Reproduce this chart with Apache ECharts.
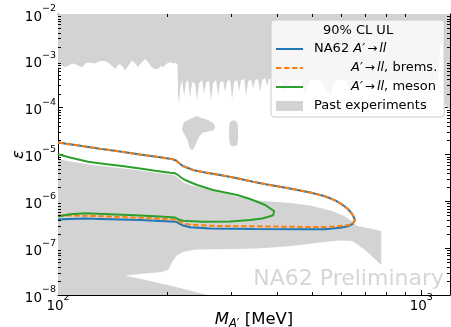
<!DOCTYPE html>
<html>
<head>
<meta charset="utf-8">
<script src="https://cdn.jsdelivr.net/npm/echarts@6/dist/echarts.min.js"></script>
<style>
  html, body { margin: 0; padding: 0; background: #ffffff; }
  #chart { width: 451px; height: 327px; }
</style>
</head>
<body>
<div id="chart"></div>
<script>
const FONT = 'DejaVu Sans';

// axis ranges and tick values
const massRange = [100, 1200];
const epsRange = [1e-8, 1e-2];
const minorMassTicks = [200, 300, 400, 500, 600, 700, 800, 900];
const epsDecades = [1e-8, 1e-7, 1e-6, 1e-5, 1e-4, 1e-3];
const decadeMultipliers = [2, 3, 4, 5, 6, 7, 8, 9];

// NA62 A' -> ll upper-limit contour, [mass MeV, epsilon]
const na62Contour = [
  [100, 1.80e-5], [115.0, 1.54e-5], [130.5, 1.33e-5], [148.2, 1.16e-5], [168.2, 1.00e-5],
  [191.0, 8.71e-6], [207.4, 7.89e-6], [211.4, 7.44e-6], [215.4, 6.58e-6], [219.6, 5.82e-6],
  [225.2, 5.33e-6], [235.4, 4.67e-6], [254.1, 4.13e-6], [279.4, 3.65e-6], [311.3, 3.10e-6],
  [344.5, 2.62e-6], [376.5, 2.29e-6], [408.9, 2.05e-6], [449.6, 1.79e-6], [494.6, 1.54e-6],
  [533.8, 1.33e-6], [561.5, 1.16e-6], [583.3, 1.02e-6], [598.3, 9.07e-7], [613.7, 7.95e-7],
  [625.5, 7.03e-7], [637.5, 6.06e-7], [645.6, 5.36e-7], [653.8, 4.40e-7], [655.9, 3.89e-7],
  [651.8, 3.53e-7], [645.6, 3.25e-7], [629.4, 2.94e-7], [598.3, 2.72e-7], [544.0, 2.54e-7],
  [494.6, 2.53e-7], [348.9, 2.56e-7], [262.3, 2.63e-7], [231.0, 2.80e-7], [221.0, 3.05e-7],
  [216.8, 3.25e-7], [211.4, 3.67e-7], [191.0, 3.82e-7], [168.2, 3.99e-7], [148.2, 4.11e-7],
  [130.5, 4.21e-7], [118.7, 4.28e-7], [107.9, 4.21e-7], [100, 4.09e-7]
];

// bremsstrahlung-production contour
const bremsContour = [
  [100, 1.80e-5], [115.0, 1.54e-5], [130.5, 1.33e-5], [148.2, 1.16e-5], [168.2, 1.00e-5],
  [191.0, 8.71e-6], [207.4, 7.89e-6], [211.4, 7.44e-6], [215.4, 6.58e-6], [219.6, 5.82e-6],
  [225.2, 5.33e-6], [235.4, 4.67e-6], [254.1, 4.13e-6], [279.4, 3.65e-6], [311.3, 3.10e-6],
  [344.5, 2.62e-6], [376.5, 2.29e-6], [408.9, 2.05e-6], [449.6, 1.79e-6], [494.6, 1.54e-6],
  [533.8, 1.33e-6], [561.5, 1.16e-6], [583.3, 1.02e-6], [598.3, 9.07e-7], [613.7, 7.95e-7],
  [625.5, 7.03e-7], [637.5, 6.06e-7], [645.6, 5.36e-7], [653.8, 4.40e-7], [655.9, 3.89e-7],
  [651.8, 3.53e-7], [645.6, 3.25e-7], [629.4, 3.12e-7], [598.3, 2.97e-7], [544.0, 2.83e-7],
  [494.6, 2.83e-7], [348.9, 2.93e-7], [262.3, 3.00e-7], [231.0, 3.18e-7], [221.0, 3.41e-7],
  [216.8, 3.62e-7], [211.4, 4.05e-7], [191.0, 4.25e-7], [168.2, 4.45e-7], [148.2, 4.63e-7],
  [130.5, 4.81e-7], [118.7, 4.91e-7], [107.9, 4.98e-7], [100, 4.98e-7]
];

// meson-decay-production contour
const mesonContour = [
  [100, 1.01e-5], [107.9, 8.62e-6], [120.9, 7.02e-6], [134.7, 6.26e-6], [150.1, 5.68e-6],
  [168.2, 5.02e-6], [185.0, 4.51e-6], [203.5, 4.09e-6], [210.1, 3.97e-6], [214.1, 3.65e-6],
  [218.2, 3.23e-6], [223.8, 2.85e-6], [241.5, 2.23e-6], [267.3, 1.74e-6], [311.3, 1.36e-6],
  [338.0, 1.12e-6], [353.4, 9.81e-7], [371.8, 8.35e-7], [383.7, 7.10e-7], [393.6, 6.21e-7],
  [396.1, 5.63e-7], [391.1, 5.06e-7], [383.7, 4.79e-7], [364.8, 4.30e-7], [338.0, 3.99e-7],
  [297.7, 3.71e-7], [250.9, 3.67e-7], [221.0, 3.84e-7], [215.4, 4.09e-7], [210.1, 4.51e-7],
  [191.0, 4.74e-7], [163.0, 5.03e-7], [139.1, 5.31e-7], [118.7, 5.55e-7], [107.9, 5.31e-7],
  [100, 4.74e-7]
];

// excluded regions from earlier experiments (closed outlines)
const pastUpper = [
  [100, 1e-2], [100, 6.37e-4], [101.3, 8.56e-4], [103.9, 7.38e-4], [106.5, 7.75e-4],
  [109.3, 8.8e-4], [111.4, 8.56e-4], [114.2, 7.75e-4], [116.4, 7.28e-4], [119.4, 8.99e-4],
  [122.5, 9.2e-4], [126.4, 8.8e-4], [130.5, 9.9e-4], [133.9, 9.9e-4], [137.3, 9.2e-4],
  [140.8, 7.75e-4], [143.6, 6.69e-4], [146.3, 8.15e-4], [148.2, 8.56e-4], [151.0, 7.38e-4],
  [153.0, 6.22e-4], [155.9, 7.75e-4], [159.9, 1.02e-3], [163.0, 8.99e-4], [166.1, 7.28e-4],
  [169.3, 8.99e-4], [173.7, 1.09e-3], [177.0, 9.44e-4], [181.5, 7.03e-4], [185.0, 6.69e-4],
  [188.6, 6.69e-4], [192.2, 7.75e-4], [194.7, 7.28e-4], [198.4, 8.56e-4], [203.5, 9.44e-4],
  [207.4, 8.8e-4], [211.4, 8.99e-4], [213.4, 8.15e-4],
  [214.1, 1.86e-4], [215.4, 1.20e-4], [216.8, 2.63e-4], [219.6, 3.90e-4], [222.4, 1.77e-4],
  [225.2, 3.53e-4], [228.1, 3.90e-4], [231.0, 1.61e-4], [234.0, 3.53e-4], [238.5, 3.20e-4],
  [241.5, 1.46e-4], [244.6, 3.36e-4], [249.3, 3.90e-4], [252.5, 1.96e-4], [255.7, 3.53e-4],
  [260.6, 3.71e-4], [263.9, 1.39e-4], [267.3, 3.36e-4], [272.4, 3.90e-4], [275.9, 1.77e-4],
  [279.4, 3.53e-4], [284.8, 3.71e-4], [288.5, 2.16e-4], [292.1, 3.71e-4], [297.7, 3.90e-4],
  [301.5, 1.53e-4], [305.4, 3.53e-4], [311.3, 3.90e-4], [315.2, 2.27e-4], [319.3, 3.90e-4],
  [325.4, 4.09e-4], [329.6, 1.77e-4], [333.8, 3.71e-4], [340.2, 3.90e-4], [344.5, 2.63e-4],
  [348.9, 3.90e-4], [355.6, 4.09e-4], [360.2, 2.16e-4], [364.8, 3.90e-4], [371.8, 4.30e-4],
  [376.5, 2.90e-4], [381.3, 4.09e-4], [388.6, 4.30e-4], [393.6, 2.38e-4], [408.9, 3.90e-4],
  [422.0, 2.16e-4], [435.6, 3.90e-4], [464.2, 4.09e-4], [479.1, 1.86e-4], [494.6, 3.90e-4],
  [527.0, 3.90e-4], [561.5, 1.77e-4], [579.6, 3.90e-4], [617.6, 3.90e-4], [637.5, 2.38e-4],
  [658.0, 3.90e-4], [723.7, 3.90e-4], [771.2, 2.16e-4], [796.0, 3.90e-4], [875.2, 3.90e-4],
  [932.6, 1.86e-4], [962.7, 3.53e-4], [1059, 3.90e-4], [1114, 3.90e-4], [1128, 2.18e-3],
  [1143, 2.18e-3], [1150, 3.90e-4], [1165, 1.14e-4], [1200, 8.9e-5], [1200, 1e-2]
];
const pastIslandA = [
  [219.6, 3.68e-5], [222.4, 4.94e-5], [228.1, 5.45e-5], [234.0, 6.01e-5], [241.5, 6.64e-5],
  [247.7, 6.01e-5], [254.1, 5.73e-5], [258.9, 5.45e-5], [263.9, 4.94e-5], [267.3, 4.70e-5],
  [270.7, 4.06e-5], [269.0, 3.33e-5], [262.3, 3.17e-5], [255.7, 3.02e-5], [249.3, 2.88e-5],
  [244.6, 2.36e-5], [240.0, 1.76e-5], [235.4, 1.25e-5], [231.0, 1.31e-5], [228.1, 1.85e-5],
  [225.2, 2.36e-5], [222.4, 2.74e-5], [219.6, 3.33e-5]
];
const pastIslandB = [
  [295.9, 3.86e-5], [297.7, 4.94e-5], [304.4, 5.45e-5], [311.3, 4.94e-5], [313.2, 3.86e-5],
  [313.2, 2.04e-5], [311.3, 1.59e-5], [304.4, 1.48e-5], [297.7, 1.59e-5], [295.9, 2.04e-5]
];
const pastLower = [
  [100, 8.01e-6], [107.9, 7.08e-6], [120.9, 6.17e-6], [134.7, 5.54e-6], [150.1, 5.07e-6],
  [168.2, 4.55e-6], [185.0, 4.09e-6], [203.5, 3.74e-6], [210.1, 3.56e-6], [214.1, 3.15e-6],
  [221.0, 2.52e-6], [231.0, 2.23e-6], [250.9, 1.90e-6], [279.4, 1.54e-6], [311.3, 1.26e-6],
  [353.4, 1.04e-6], [383.7, 9.91e-7], [435.6, 9.21e-7], [494.6, 8.14e-7], [561.5, 6.37e-7],
  [609.8, 4.98e-7], [637.5, 3.99e-7], [666.4, 2.97e-7], [723.7, 2.63e-7], [776.1, 2.32e-7],
  [776.1, 4.37e-8], [701.1, 9.13e-8], [645.6, 1.42e-7], [598.3, 1.46e-7], [527.0, 1.32e-7],
  [464.2, 1.17e-7], [408.9, 1.06e-7], [348.9, 9.83e-8], [297.7, 9.59e-8], [246.1, 9.36e-8],
  [234.0, 9.13e-8], [221.0, 8.28e-8], [212.7, 7.14e-8], [206.1, 5.06e-8], [200.9, 3.42e-8],
  [193.4, 3.10e-8], [179.3, 2.95e-8], [168.2, 2.81e-8], [153.0, 2.61e-8], [179.3, 1.99e-8],
  [216.8, 1.41e-8], [257.3, 1e-8], [100, 1e-8]
];
const pastRegions = [pastUpper, pastIslandA, pastIslandB, pastLower];

const seriesNames = ['NA62 A′→ll', 'A′→ll, brems.', 'A′→ll, meson', 'Past experiments'];
const COLORS = { na62: '#1f77b4', brems: '#ff7f0e', meson: '#2ca02c', past: '#d3d3d3' };

const minorEpsTicks = [];
epsDecades.forEach(d => decadeMultipliers.forEach(k => minorEpsTicks.push(d * k)));

function isDecade(v) {
  const l = Math.log10(v);
  return Math.abs(l - Math.round(l)) < 1e-6;
}
function powerLabel(v) {
  if (!isDecade(v)) return '';
  const e = Math.round(Math.log10(v));
  return '{b|10}{s|' + (e < 0 ? '\u2212' : '') + Math.abs(e) + '}';
}

const tickRich = {
  b: { fontFamily: FONT, fontSize: 13.5, color: '#000', lineHeight: 20, verticalAlign: 'bottom' },
  s: { fontFamily: FONT, fontSize: 9.5, color: '#000', lineHeight: 10, verticalAlign: 'top' }
};

function logAxis(extra) {
  return Object.assign({
    type: 'log', logBase: 10,
    axisLine: { show: true, onZero: false, lineStyle: { color: '#000', width: 1 } },
    axisTick: { show: true, inside: true, length: 5, lineStyle: { color: '#000', width: 1 } },
    splitLine: { show: false },
    minorTick: { show: false },
    nameMoveOverlap: false
  }, extra);
}

function renderPast(params, api) {
  const poly = pastRegions[api.value(2)];
  return {
    type: 'polygon',
    shape: { points: poly.map(p => api.coord(p)) },
    style: { fill: COLORS.past, stroke: null }
  };
}

function renderMinorTicks(params, api) {
  const len = 3;
  const st = { stroke: '#000', lineWidth: 1 };
  const children = [];
  minorMassTicks.forEach(m => {
    const b = api.coord([m, epsRange[0]]);
    const t = api.coord([m, epsRange[1]]);
    const x = Math.round(b[0]) + 0.5;
    children.push({ type: 'line', shape: { x1: x, y1: b[1], x2: x, y2: b[1] - len }, style: st });
    children.push({ type: 'line', shape: { x1: x, y1: t[1], x2: x, y2: t[1] + len }, style: st });
  });
  minorEpsTicks.forEach(e => {
    const l = api.coord([massRange[0], e]);
    const r = api.coord([massRange[1], e]);
    const y = Math.round(l[1]) + 0.5;
    children.push({ type: 'line', shape: { x1: l[0], y1: y, x2: l[0] + len, y2: y }, style: st });
    children.push({ type: 'line', shape: { x1: r[0], y1: y, x2: r[0] - len, y2: y }, style: st });
  });
  return { type: 'group', children };
}

function contourSeries(name, data, color, dashed) {
  return {
    type: 'line', name, data,
    xAxisIndex: 0, yAxisIndex: 0,
    symbol: 'none', smooth: false,
    color,
    itemStyle: { color },
    lineStyle: { color, width: 2, type: dashed ? [5.5, 2.5] : 'solid' },
    emphasis: { disabled: true },
    silent: true
  };
}

const legendRich = {
  g: { width: 6, fontFamily: FONT, fontSize: 13, lineHeight: 14 },
  G: { width: 43, fontFamily: FONT, fontSize: 13, lineHeight: 14 },
  i: { fontFamily: FONT, fontSize: 13, fontStyle: 'italic', lineHeight: 14, color: '#000' },
  t: { fontFamily: FONT, fontSize: 12, lineHeight: 14, padding: [0, 2, 0, 2], color: '#000' }
};
const legendText = {
  'NA62 A′→ll': '{g| }NA62 {i|A′}{t|→}{i|ll}',
  'A′→ll, brems.': '{G| }{i|A′}{t|→}{i|ll}, brems.',
  'A′→ll, meson': '{G| }{i|A′}{t|→}{i|ll}, meson',
  'Past experiments': '{g| }Past experiments'
};

const chart = echarts.init(document.getElementById('chart'), null, { renderer: 'canvas' });

chart.setOption({
  animation: false,
  backgroundColor: '#ffffff',
  grid: { left: 58, right: 1, top: 14, bottom: 32, containLabel: false, outerBoundsMode: 'none' },
  xAxis: [
    logAxis({
      position: 'bottom', min: massRange[0], max: massRange[1],
      name: '{m|M}{sub|A′} [MeV]', nameLocation: 'middle', nameGap: 15,
      nameTextStyle: {
        fontFamily: FONT, fontSize: 16.5, color: '#000', lineHeight: 20, verticalAlign: 'top',
        rich: {
          m: { fontFamily: FONT, fontSize: 16.5, fontStyle: 'italic', lineHeight: 20, color: '#000' },
          sub: { fontFamily: FONT, fontSize: 11.5, fontStyle: 'italic', lineHeight: 12, verticalAlign: 'bottom', color: '#000' }
        }
      },
      axisLabel: { show: true, margin: -2, formatter: powerLabel, rich: tickRich, color: '#000' }
    }),
    logAxis({ position: 'top', min: massRange[0], max: massRange[1], axisLabel: { show: false } })
  ],
  yAxis: [
    logAxis({
      position: 'left', min: epsRange[0], max: epsRange[1],
      name: 'ε', nameLocation: 'middle', nameGap: 31,
      nameTextStyle: { fontFamily: FONT, fontSize: 16.5, fontStyle: 'italic', color: '#000' },
      axisLabel: { show: true, margin: 2, formatter: powerLabel, rich: tickRich, color: '#000' }
    }),
    logAxis({ position: 'right', min: epsRange[0], max: epsRange[1], axisLabel: { show: false } })
  ],
  legend: {
    orient: 'vertical', left: 271, top: 20,
    padding: [22, 7, 4, 4],
    itemWidth: 27, itemHeight: 10, itemGap: 5,
    backgroundColor: 'rgba(255,255,255,0.8)',
    borderColor: '#cccccc', borderWidth: 1, borderRadius: 3,
    selectedMode: false,
    itemStyle: { opacity: 0 },
    textStyle: { fontFamily: FONT, fontSize: 13, color: '#000', lineHeight: 14, rich: legendRich },
    formatter: name => legendText[name],
    data: [
      { name: seriesNames[0] },
      { name: seriesNames[1] },
      { name: seriesNames[2] },
      { name: seriesNames[3], icon: 'rect', itemStyle: { opacity: 1, color: COLORS.past } }
    ]
  },
  graphic: [
    {
      type: 'text', x: 358, y: 31, z: 10,
      style: { text: '90% CL UL', font: '13px "DejaVu Sans"', fill: '#000', align: 'center', verticalAlign: 'middle' }
    },
    {
      type: 'text', x: 444, y: 279, z: 5,
      style: { text: 'NA62 Preliminary', font: '22px "DejaVu Sans"', fill: '#d6d6d6', align: 'right', verticalAlign: 'middle' }
    }
  ],
  series: [
    {
      type: 'custom', name: seriesNames[3],
      xAxisIndex: 0, yAxisIndex: 0,
      itemStyle: { color: COLORS.past },
      color: COLORS.past,
      data: pastRegions.map((r, i) => [r[0][0], r[0][1], i]),
      encode: { x: 0, y: 1 },
      renderItem: renderPast,
      silent: true
    },
    contourSeries(seriesNames[0], na62Contour, COLORS.na62, false),
    contourSeries(seriesNames[1], bremsContour, COLORS.brems, true),
    contourSeries(seriesNames[2], mesonContour, COLORS.meson, false),
    {
      type: 'custom',
      xAxisIndex: 0, yAxisIndex: 0,
      data: [[massRange[0], epsRange[0]]],
      encode: { x: 0, y: 1 },
      renderItem: renderMinorTicks,
      silent: true, z: 5
    }
  ]
});
</script>
</body>
</html>
